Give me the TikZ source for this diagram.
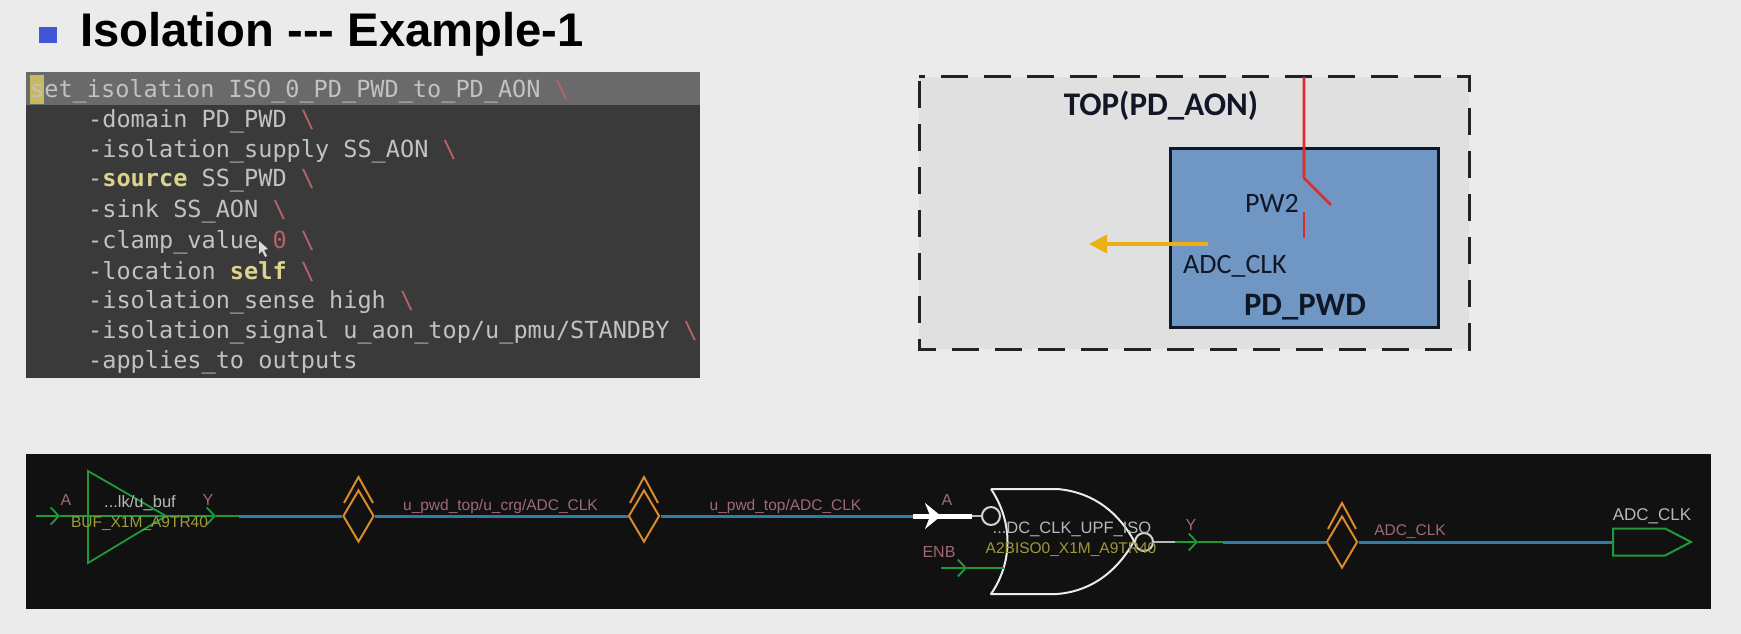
\documentclass[tikz,border=0pt]{standalone}
\usepackage{fontspec}
\setmainfont{Liberation Sans}
\newfontfamily\codefont{DejaVu Sans Mono}
\newfontfamily\slidefont{Carlito}
\usetikzlibrary{arrows.meta,shapes.geometric,shapes.symbols}
\definecolor{bgc}{HTML}{EBEBEB}
\definecolor{topc}{HTML}{E0E0E0}
\definecolor{pwdc}{HTML}{7097C4}
\definecolor{inkc}{HTML}{101828}
\definecolor{dashc}{HTML}{222222}
\definecolor{bulc}{HTML}{4257D8}
\definecolor{codebg}{HTML}{3A3A3A}
\definecolor{codehd}{HTML}{6A6A6A}
\definecolor{codetx}{HTML}{C2C2C2}
\definecolor{codeye}{HTML}{DCD48A}
\definecolor{coderd}{HTML}{B8626A}
\definecolor{curs}{HTML}{C8B860}
\definecolor{schbg}{HTML}{111111}
\definecolor{schgr}{HTML}{1F9A3A}
\definecolor{schbl}{HTML}{2F7CA8}
\definecolor{schor}{HTML}{D98A2A}
\definecolor{schpk}{HTML}{A06A74}
\definecolor{schwh}{HTML}{B8B8B8}
\definecolor{schye}{HTML}{A09A38}
\definecolor{redl}{HTML}{E02A2A}
\definecolor{ambr}{HTML}{EBB014}
\newcommand{\us}{\_}
\newcommand{\bs}{\textcolor{coderd}{\textbackslash}}
\newcommand{\fs}[1]{\fontsize{#1}{#1}\selectfont}
\tikzset{
  x=1pt,y=-1pt,
  codeline/.style={anchor=west,inner sep=0pt,text=codetx,font=\codefont\fs{23.55}},
  slidetxt/.style={inner sep=0pt,text=inkc,font=\slidefont\fs{28}},
  slidebold/.style={inner sep=0pt,text=inkc,font=\slidefont\bfseries\fs{32.7}},
  pinlabel/.style={inner sep=0pt,text=schpk,font=\fs{16}},
  netlabel/.style={inner sep=0pt,text=schpk,font=\fs{15.5}},
  instlabel/.style={inner sep=0pt,text=schwh,font=\fs{16.5}},
  celllabel/.style={inner sep=0pt,text=schye,font=\fs{15.5}},
  greenw/.style={draw=schgr,line width=1.8pt},
  bluew/.style={draw=schbl,line width=3pt},
  orng/.style={draw=schor,line width=2pt,line join=miter},
  dmd/.style={draw=schor,line width=2pt,diamond,aspect=.58,minimum width=31pt,minimum height=52pt,inner sep=0pt,fill=schbg},
  barb/.style={-{Straight Barb[length=8pt,width=17pt,line width=1.8pt]}},
}
\begin{document}
\begin{tikzpicture}
\useasboundingbox (0,0) rectangle (1741,634);
\fill[bgc] (0,0) rectangle (1741,634);
% title
\fill[bulc] (39,27) rectangle (56.5,43);
\node[anchor=west,inner sep=0pt,text=black,font=\bfseries\fs{47.2}] (title) at (80,34) {Isolation {-}{-}{-} Example-1};
% code panel
\fill[codebg] (26,72) rectangle (700,378);
\fill[codehd] (26,72) rectangle (700,105);
\fill[curs] (30,75) rectangle (44,104);
\node[codeline] (l0) at (30,91) {set\us isolation ISO\us 0\us PD\us PWD\us to\us PD\us AON \bs};
\node[codeline] (l1) at (88,121) {-domain PD\us PWD \bs};
\node[codeline] (l2) at (88,151) {-isolation\us supply SS\us AON \bs};
\node[codeline] (l3) at (88,181) {-\textcolor{codeye}{\bfseries source} SS\us PWD \bs};
\node[codeline] (l4) at (88,211) {-sink SS\us AON \bs};
\node[codeline] (l5) at (88,242) {-clamp\us value \textcolor{coderd}{0} \bs};
\node[codeline] (l6) at (88,272) {-location \textcolor{codeye}{\bfseries self} \bs};
\node[codeline] (l7) at (88,302) {-isolation\us sense high \bs};
\node[codeline] (l8) at (88,332) {-isolation\us signal u\us aon\us top/u\us pmu/STANDBY \bs};
\node[codeline] (l9) at (88,362) {-applies\us to outputs};
\fill[white!85!black] (259,241) -- (259,254) -- (262,251) -- (265,257) -- (267,256) -- (264,250) -- (268,249) -- cycle;
% block diagram
\fill[topc] (919,77) rectangle (1469,349);
\draw[dashc,line width=3pt,dash pattern=on 27pt off 16pt,dash phase=-4pt] (919,77) rectangle (1469,349);
\node[draw=inkc,fill=pwdc,line width=3.5pt,minimum width=268pt,minimum height=179pt,inner sep=0pt,anchor=north west] (pwd) at (1168.5,146.5) {};
\node[slidebold,font=\slidefont\bfseries\fs{33}] (top) at (1161,106) {TOP(PD\us AON)};
\node[slidetxt] (pw2) at (1272,203) {PW2};
\node[slidetxt] (adc) at (1235,266) {ADC\us CLK};
\node[slidebold] (pdpwd) at (1305,307) {PD\us PWD};
\coordinate (s0) at (1304,77);
\coordinate (s1) at (1304,178);
\coordinate (s2) at (1331,205);
\coordinate (s3) at (1304,212);
\coordinate (s4) at (1304,238);
\draw[redl,line width=2.6pt] (s0) -- (s1) -- (s2);
\draw[redl,line width=2.6pt] (s3) -- (s4);
\coordinate (o0) at (1208,244);
\coordinate (o1) at (1089,244);
\draw[ambr,line width=3.6pt,-{Triangle[length=18pt,width=18pt]}] (o0) -- (o1);
% schematic panel
\fill[schbg] (26,454) rectangle (1711,609);
% buffer
\draw[greenw,line join=miter] (88,471) -- (166,516) -- (88,563) -- cycle;
\coordinate (w0) at (36,516);
\coordinate (w1) at (60,516);
\coordinate (w2) at (216,516);
\coordinate (w3) at (239,516);
\draw[greenw,barb] (w0) -- (w1);
\draw[greenw,barb] (w1) -- (w2);
\draw[greenw] (w2) -- (w3);
% diamonds
\node[dmd] (d1) at (358.5,516) {};
\node[dmd] (d2) at (644,516) {};
\node[dmd] (d3) at (1342,542) {};
\draw[orng] (344,503) -- (358.5,477) -- (373,503);
\draw[orng] (630,503) -- (644,477) -- (658,503);
\draw[orng] (1328,529) -- (1342,503) -- (1356,529);
\coordinate (wb) at (913,516);
\draw[bluew] (w3) -- (d1.west);
\draw[bluew] (d1.east) -- (d2.west);
\draw[bluew] (d2.east) -- (wb);
% gate
\node[circle,draw=schwh!60!white,line width=2pt,minimum size=18pt,inner sep=0pt] (ci) at (991,516) {};
\node[circle,draw=schwh!60!white,line width=2pt,minimum size=18pt,inner sep=0pt] (co) at (1144,542) {};
\draw[white!92!black,line width=2pt,line join=round] (991,489) -- (1057,489) .. controls (1095,492) and (1120,515) .. (1134,541) .. controls (1120,567) and (1095,591) .. (1057,594) -- (991,594) .. controls (1013,562) and (1013,522) .. (991,489);
\coordinate (wt) at (972,516);
\draw[white,line width=5pt] (wb) -- (wt);
\draw[white,line width=5pt,-{Stealth[length=16pt,width=26pt]}] (wb) -- (941,516);
\draw[schwh,line width=2pt] (wt) -- (ci.west);
% ENB
\coordinate (e0) at (941,568);
\coordinate (e1) at (967,568);
\coordinate (e2) at (1004,568);
\draw[greenw,barb] (e0) -- (e1);
\draw[greenw] (e1) -- (e2);
% output
\coordinate (y0) at (1175,542);
\coordinate (y1) at (1198,542);
\coordinate (y2) at (1223,542);
\draw[schwh,line width=1.8pt] (co.east) -- (y0);
\draw[greenw,barb] (y0) -- (y1);
\draw[greenw] (y1) -- (y2);
\draw[bluew] (y2) -- (d3.west);
\node[draw=schgr,line width=2pt,signal,signal to=east,signal pointer angle=55,minimum width=78pt,minimum height=27pt,inner sep=0pt,anchor=west] (port) at (1612,542) {};
\draw[bluew] (d3.east) -- (port.west);
% labels
\node[pinlabel] (la) at (66,500) {A};
\node[instlabel] (lbuf) at (140,503) {...lk/u\us buf};
\node[pinlabel] (ly) at (208,500) {Y};
\node[celllabel] (lbufc) at (139.5,524) {BUF\us X1M\us A9TR40};
\node[netlabel] (n1) at (500.5,506) {u\us pwd\us top/u\us crg/ADC\us CLK};
\node[netlabel] (n2) at (785.5,506) {u\us pwd\us top/ADC\us CLK};
\node[pinlabel] (ga) at (947,500) {A};
\node[pinlabel] (ge) at (939,552) {ENB};
\node[instlabel] (gi) at (1072,529) {...DC\us CLK\us UPF\us ISO};
\node[celllabel] (gc) at (1071,550) {A2BISO0\us X1M\us A9TR40};
\node[pinlabel] (gy) at (1191,525) {Y};
\node[netlabel] (n3) at (1410,532) {ADC\us CLK};
\node[instlabel,font=\fs{17}] (pl) at (1652,516) {ADC\us CLK};
\end{tikzpicture}
\end{document}
